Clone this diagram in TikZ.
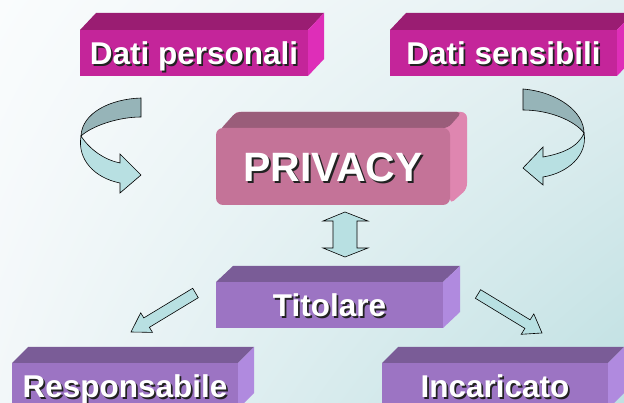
\documentclass[tikz,border=0pt]{standalone}
\usepackage{fontspec}
\setmainfont{Liberation Sans}
\usetikzlibrary{calc,shadings}
\definecolor{magF}{HTML}{C4259A}
\definecolor{magT}{HTML}{9A1D72}
\definecolor{magR}{HTML}{DE2EB8}
\definecolor{prF}{HTML}{C47398}
\definecolor{prT}{HTML}{9A5D7A}
\definecolor{prR}{HTML}{DF86B0}
\definecolor{puF}{HTML}{9C74C3}
\definecolor{puT}{HTML}{7A5C97}
\definecolor{puR}{HTML}{B08ADF}
\definecolor{arL}{HTML}{B8E0E2}
\definecolor{arD}{HTML}{96B4B8}
\definecolor{shc}{HTML}{222222}
\definecolor{bgUL}{HTML}{FAFCFD}
\definecolor{bgUR}{HTML}{E4F0F2}
\definecolor{bgLL}{HTML}{F2F7F9}
\definecolor{bgLR}{HTML}{BFE0E2}
\newcommand\shtxt[2][1.8pt]{\rlap{\kern#1\raisebox{-#1}{\color{shc}#2}}{\color{white}#2}}
% cuboid faces: node, dx, dy, top colour, right colour
\newcommand\cuboidfaces[5]{%
  \fill[#4] (#1.north west) -- ++(#2,-#3) -- ($(#1.north east)+(#2,-#3)$) -- (#1.north east) -- cycle;
  \fill[#5] (#1.north east) -- ++(#2,-#3) -- ($(#1.south east)+(#2,-#3)$) -- (#1.south east) -- cycle;}
\begin{document}
\begin{tikzpicture}[x=1pt,y=-1pt,
  face/.style={inner sep=0pt, outer sep=0pt, minimum height=46pt, text=white,
    font=\fontsize{31.5}{36}\bfseries\selectfont, text height=22.5pt, text depth=0pt},
  magbox/.style={face, fill=magF},
  pubox/.style={face, fill=puF},
  blockarrow/.style={fill=arL, draw=black, line width=0.6pt, line join=miter},
  blockdark/.style={fill=arD, draw=black, line width=0.6pt}]
\useasboundingbox (0,0) rectangle (624,403);
\shade[upper left=bgUL, upper right=bgUR, lower left=bgLL, lower right=bgLR] (0,0) rectangle (624,403);
\begin{scope}
\clip (0,0) rectangle (624,403);
% top boxes
\node[magbox, minimum width=228pt] (dp) at (194,53) {\shtxt{Dati personali}};
\cuboidfaces{dp}{16}{17}{magT}{magR}
\node[magbox, minimum width=227pt] (ds) at (503.5,53) {\shtxt{Dati sensibili}};
\cuboidfaces{ds}{16}{17}{magT}{magR}
% PRIVACY
\fill[prR, rounded corners=6pt] (233,112) rectangle (467,189);
\fill[prT, rounded corners=5pt] (219,131) -- (236,112) -- (462,112) -- (448,128) -- cycle;
\fill[prR, rounded corners=5pt] (448,128) -- (466,113) -- (467,189) -- (450,204) -- cycle;
\node[face, fill=prF, rounded corners=7pt, minimum width=234pt, minimum height=77pt,
  font=\fontsize{41}{46}\bfseries\selectfont, text height=29.4pt] (pv) at (333,166.5) {\shtxt[2.2pt]{PRIVACY}};
% purple boxes
\node[pubox, minimum width=227pt] (ti) at (329.5,305) {\shtxt{Titolare}};
\cuboidfaces{ti}{17}{16}{puT}{puR}
\node[pubox, minimum width=226pt] (re) at (125,386) {\shtxt{Responsabile}};
\cuboidfaces{re}{16}{16}{puT}{puR}
\node[pubox, minimum width=226pt] (in) at (495,386) {\shtxt{Incaricato}};
\cuboidfaces{in}{16}{16}{puT}{puR}
\end{scope}
% double arrow PRIVACY <-> Titolare
\draw[blockarrow] (345,212) -- (368,221) -- (357,221) -- (357,248) -- (368,248) -- (345,257)
  -- (323,248) -- (333,248) -- (333,221) -- (323,221) -- cycle;
% diagonal arrows
\draw[blockarrow] (192.7,288.3) -- (143.8,317.9) -- (140.7,312.8) -- (131,332) -- (152.5,332.4)
  -- (149.4,327.3) -- (198.3,297.7) -- cycle;
\draw[blockarrow] (480.6,289.7) -- (530.1,319.8) -- (533.8,313.9) -- (542,333) -- (521.2,334.3)
  -- (524.9,328.4) -- (475.4,298.3) -- cycle;
% left curved arrow
\draw[blockdark] (141,98) .. controls (110,99) and (82,113) .. (81,136)
  .. controls (92,126) and (118,117) .. (141,117) -- cycle;
\draw[blockarrow] (81,136) .. controls (90,150) and (105,160) .. (120,163) -- (120,154) -- (141,175)
  -- (120,193) -- (120,183) .. controls (95,178) and (77,160) .. (81,136) -- cycle;
% right curved arrow
\draw[blockdark] (523,89) .. controls (558,92) and (584,112) .. (584,133)
  .. controls (575,121) and (550,110) .. (523,110) -- cycle;
\draw[blockarrow] (584,133) .. controls (578,148) and (560,154) .. (543,157) -- (543,147) -- (523,168)
  -- (543,185) -- (543,177) .. controls (568,173) and (588,155) .. (584,133) -- cycle;
\end{tikzpicture}
\end{document}
